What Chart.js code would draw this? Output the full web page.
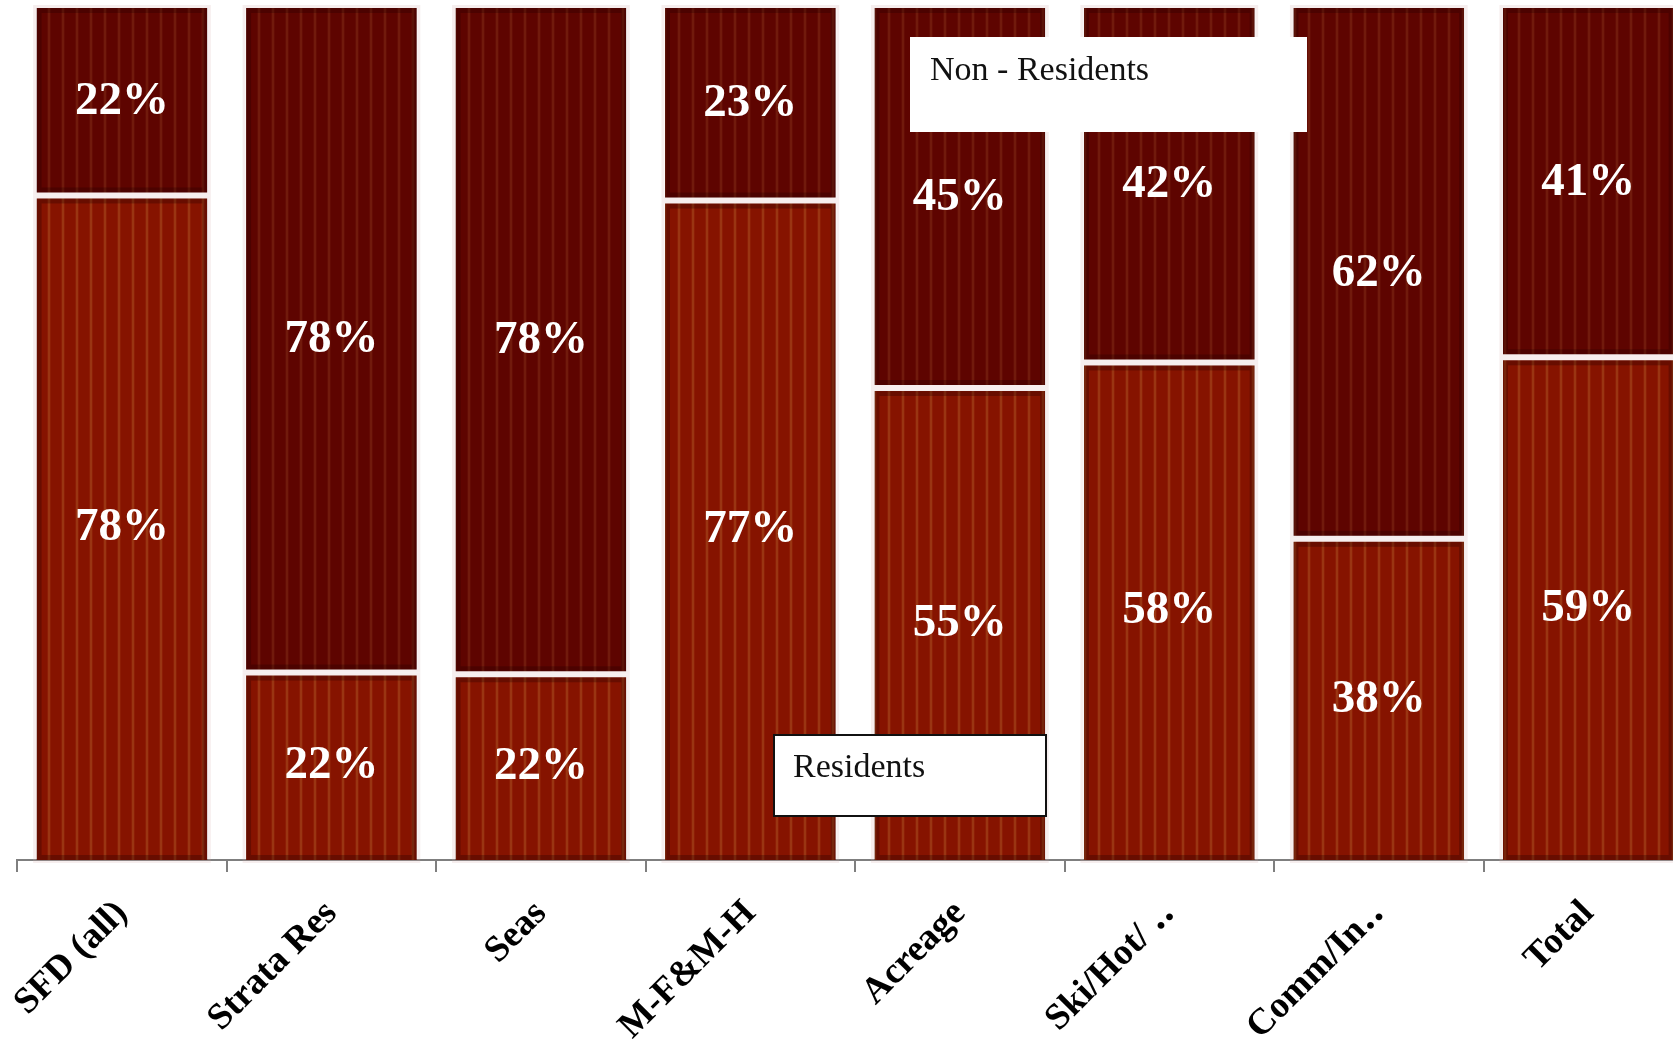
<!DOCTYPE html>
<html>
<head>
<meta charset="utf-8">
<script src="https://cdn.jsdelivr.net/npm/chart.js@4.4.1/dist/chart.umd.min.js"></script>
<style>
  html, body { margin: 0; padding: 0; background: #ffffff; overflow: hidden; }
  #wrap { position: relative; width: 1700px; height: 1045px; }
</style>
</head>
<body>
<div id="wrap"><canvas id="residency"></canvas></div>
<script>
// categories and shares (percent)
const categories = ['SFD (all)', 'Strata Res', 'Seas', 'M-F&M-H', 'Acreage', 'Ski/Hot/ \u2025', 'Comm/In\u2025', 'Total'];
const residents = [78.0, 22.0, 21.8, 77.4, 55.4, 58.4, 37.7, 59.0];
const nonResidents = [22.0, 78.0, 78.2, 22.6, 44.6, 41.6, 62.3, 41.0];

// striped fill like the original bars
function stripes(base, soft, line) {
  const c = document.createElement('canvas');
  c.width = 14; c.height = 4;
  const g = c.getContext('2d');
  g.fillStyle = base;
  g.fillRect(0, 0, 14, 4);
  g.fillStyle = soft;
  g.fillRect(5, 0, 4, 4);
  g.fillStyle = line;
  g.fillRect(6, 0, 2, 4);
  return document.getElementById('residency').getContext('2d').createPattern(c, 'repeat');
}

const serif = '"Liberation Serif", "DejaVu Serif", serif';

// darker inner edge on every segment
const bevel = {
  id: 'bevel',
  afterDatasetsDraw(chart) {
    const ctx = chart.ctx;
    ctx.save();
    chart.data.datasets.forEach((ds, i) => {
      chart.getDatasetMeta(i).data.forEach(bar => {
        const p = bar.getProps(['x', 'y', 'base', 'width'], true);
        const left = p.x - p.width / 2;
        let top = Math.min(p.y, p.base), bottom = Math.max(p.y, p.base);
        if (i === 0) top += 3; else bottom -= 3;
        ctx.strokeStyle = 'rgba(35, 0, 0, 0.3)';
        ctx.lineWidth = 5;
        ctx.strokeRect(left + 2.5, top + 2.5, p.width - 5, bottom - top - 5);
        ctx.strokeStyle = 'rgba(210, 170, 170, 0.2)';
        ctx.lineWidth = 3;
        ctx.strokeRect(left - 2, top - 1.5, p.width + 4, bottom - top + 3);
      });
    });
    ctx.restore();
  }
};

// white percentage labels in the middle of each segment
const valueLabels = {
  id: 'valueLabels',
  afterDatasetsDraw(chart) {
    const ctx = chart.ctx;
    ctx.save();
    ctx.fillStyle = '#ffffff';
    ctx.font = 'bold 47px ' + serif;
    ctx.textAlign = 'center';
    ctx.textBaseline = 'middle';
    chart.data.datasets.forEach((ds, i) => {
      chart.getDatasetMeta(i).data.forEach((bar, j) => {
        const p = bar.getProps(['x', 'y', 'base'], true);
        ctx.fillText(Math.round(ds.data[j]) + '%', p.x, (p.y + p.base) / 2);
      });
    });
    ctx.restore();
  }
};

// the two text-box legends
const callouts = {
  id: 'callouts',
  afterDraw(chart) {
    const ctx = chart.ctx;
    ctx.save();
    ctx.font = '34px ' + serif;
    ctx.textBaseline = 'alphabetic';
    ctx.textAlign = 'left';
    // Non - Residents box (no outline)
    ctx.fillStyle = '#ffffff';
    ctx.fillRect(910, 37, 397, 95);
    ctx.fillStyle = '#111111';
    ctx.fillText('Non - Residents', 930, 80);
    // Residents box
    ctx.fillStyle = '#ffffff';
    ctx.fillRect(774, 735, 272, 81);
    ctx.strokeStyle = '#111111';
    ctx.lineWidth = 2;
    ctx.strokeRect(774, 735, 272, 81);
    ctx.fillStyle = '#111111';
    ctx.fillText('Residents', 793, 777);
    ctx.restore();
  }
};

const ctx = document.getElementById('residency').getContext('2d');
const residencyChart = new Chart(ctx, {
  type: 'bar',
  data: {
    labels: categories,
    datasets: [{
      label: 'Residents',
      data: residents,
      backgroundColor: stripes('#861300', '#8d1d05', '#9a3512'),
      borderColor: '#ffffff',
      borderWidth: {top: 3, bottom: 0, left: 0, right: 0},
      borderSkipped: false
    }, {
      label: 'Non - Residents',
      data: nonResidents,
      backgroundColor: stripes('#5e0400', '#640b04', '#711a0c'),
      borderColor: '#ffffff',
      borderWidth: {top: 0, bottom: 3, left: 0, right: 0},
      borderSkipped: false
    }]
  },
  options: {
    responsive: true,
    maintainAspectRatio: false,
    animation: false,
    barPercentage: 0.815,
    categoryPercentage: 1,
    layout: { padding: { top: 8, left: 15, right: 7, bottom: 0 } },
    plugins: {
      legend: { display: false },
      tooltip: { enabled: false }
    },
    scales: {
      x: {
        stacked: true,
        afterFit: (scale) => { scale.height = 185; },
        border: { display: true, color: '#7f7f7f', width: 2 },
        grid: {
          offset: true,
          drawOnChartArea: false,
          drawTicks: true,
          tickLength: 12,
          color: '#7f7f7f',
          lineWidth: 2
        },
        ticks: {
          color: '#000000',
          autoSkip: false,
          minRotation: 45,
          maxRotation: 45,
          padding: 20,
          font: { family: serif, size: 37, weight: 'bold' }
        }
      },
      y: {
        stacked: true,
        display: false,
        min: 0,
        max: 100
      }
    }
  },
  plugins: [bevel, valueLabels, callouts]
});
</script>
</body>
</html>
